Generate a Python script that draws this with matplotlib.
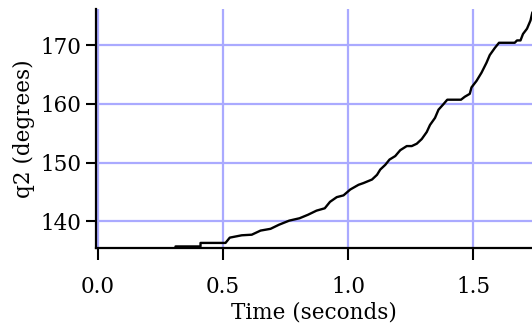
import matplotlib.pyplot as plt
import numpy as np

# values
t = [0.0, 0.31, 0.31, 0.41, 0.41, 0.51, 0.527, 0.575, 0.615, 0.65, 0.69, 0.724,
     0.765, 0.806, 0.84, 0.874, 0.907, 0.928, 0.955, 0.982, 1.009, 1.042, 1.062,
     1.096, 1.116, 1.129, 1.149, 1.166, 1.189, 1.209, 1.235, 1.255, 1.275, 1.295,
     1.315, 1.328, 1.348, 1.362, 1.381, 1.397, 1.452, 1.467, 1.487, 1.494, 1.514,
     1.534, 1.554, 1.567, 1.587, 1.604, 1.667, 1.676, 1.690, 1.700, 1.716, 1.730,
     1.737]
q2 = [135.35, 135.35, 135.7, 135.7, 136.3, 136.3, 137.2, 137.6, 137.7, 138.4, 138.7,
      139.4, 140.1, 140.5, 141.1, 141.8, 142.2, 143.3, 144.1, 144.4, 145.4, 146.2,
      146.5, 147.1, 147.9, 148.8, 149.6, 150.5, 151.1, 152.1, 152.8, 152.8, 153.2,
      154.0, 155.2, 156.4, 157.6, 159.0, 159.9, 160.7, 160.7, 161.2, 161.7, 162.8,
      163.9, 165.3, 167.0, 168.3, 169.5, 170.4, 170.4, 170.8, 170.8, 171.9, 172.8,
      174.2, 175.5]

xticks = [0.0, 0.5, 1.0, 1.5]
yticks = [140, 150, 160, 170]

plt.rcParams['font.family'] = 'DejaVu Serif'

fig = plt.figure(figsize=(5.32, 3.28), dpi=100)
ax = fig.add_axes([0.1805, 0.2424, 0.8195, 0.7292])

ax.plot(t, q2, color='black', lw=1.7, solid_joinstyle='round')

ax.set_xlim(-0.008, 1.736)
ax.set_ylim(135.35, 176.1)
ax.set_xticks(xticks)
ax.set_xticklabels(['0.0', '0.5', '1.0', '1.5'])
ax.set_yticks(yticks)

ax.grid(True, color='#aaaaff', lw=1.6)
ax.set_axisbelow(True)
for s in ['top', 'right']:
    ax.spines[s].set_visible(False)
for s in ['left', 'bottom']:
    ax.spines[s].set_linewidth(1.6)

ax.tick_params(axis='x', direction='out', length=8.5, width=1.5, labelsize=15.5, pad=11)
ax.tick_params(axis='y', direction='out', length=7.5, width=1.5, labelsize=15.5, pad=3)
ax.set_xlabel('Time (seconds)', fontsize=15.5, labelpad=3)
ax.set_ylabel('q2 (degrees)', fontsize=15.5, labelpad=4)

fig.savefig('out.png', dpi=100)
